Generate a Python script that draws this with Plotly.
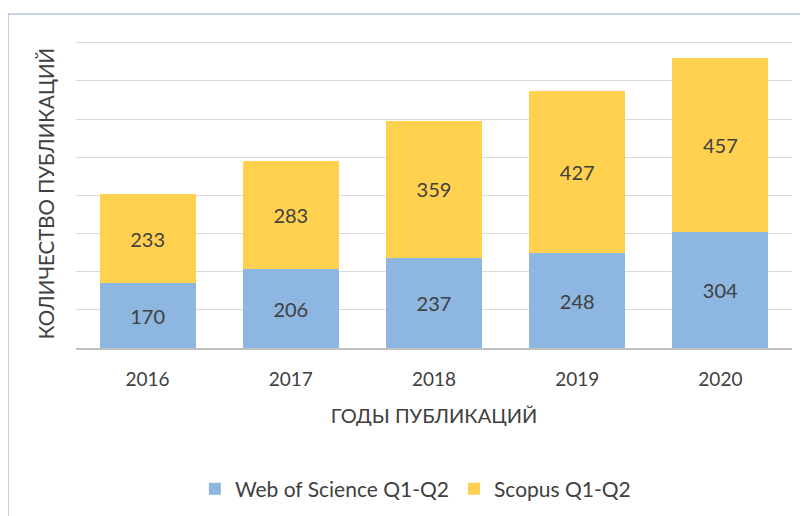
import plotly.graph_objects as go

years = ["2016", "2017", "2018", "2019", "2020"]
wos = [170, 206, 237, 248, 304]
scopus = [233, 283, 359, 427, 457]
series_names = ["Web of Science Q1-Q2", "Scopus Q1-Q2"]
x_title = "ГОДЫ ПУБЛИКАЦИЙ"
y_title = "КОЛИЧЕСТВО ПУБЛИКАЦИЙ"

FONT = "Lato, Carlito, Calibri, sans-serif"
TXT = "#404040"

fig = go.Figure()
fig.add_trace(go.Bar(x=years, y=wos, name=series_names[0], marker=dict(color="#8DB6E1", line=dict(width=0)),
                     text=wos, textposition="inside", insidetextanchor="middle",
                     textfont=dict(size=20, color=TXT, family=FONT)))
fig.add_trace(go.Bar(x=years, y=scopus, name=series_names[1], marker=dict(color="#FFD14F", line=dict(width=0)),
                     text=scopus, textposition="inside", insidetextanchor="middle",
                     textfont=dict(size=20, color=TXT, family=FONT)))

# page has an 8px body margin, so the figure is 800x508 placed at (8,8)
W, H = 800, 508
L, R, T, B = 68, 16, 31, 168
pw, ph = W - L - R, H - T - B

fig.update_layout(
    width=W, height=H, barmode="stack", bargap=0.33,
    margin=dict(l=L, r=R, t=T, b=B, autoexpand=False),
    paper_bgcolor="white", plot_bgcolor="white",
    font=dict(family=FONT, color=TXT),
    uniformtext=dict(mode=False),
    xaxis=dict(showgrid=False, showline=True, linecolor="#BFBFBF", linewidth=1.5,
               tickfont=dict(size=19, color=TXT), ticks="", ticklabelstandoff=13,
               title=dict(text=x_title, font=dict(size=20, color=TXT), standoff=20)),
    yaxis=dict(range=[0, 810], tickvals=[100, 200, 300, 400, 500, 600, 700, 800],
               showgrid=True, gridcolor="#D9D9D9", gridwidth=1,
               showticklabels=False, zeroline=False, ticks="",
               title=dict(text=y_title, font=dict(size=20.5, color=TXT), standoff=14)),
    legend=dict(orientation="h", x=0.474, xanchor="center", y=-0.39, yanchor="top",
                font=dict(size=21, color=TXT), itemwidth=30, traceorder="normal"),
    shapes=[dict(type="rect", xref="paper", yref="paper",
                 x0=(0 - L) / pw, x1=(W + 20 - L) / pw,
                 y0=-(B + 20) / ph, y1=(H - B - 6) / ph,
                 line=dict(color="#B4C4D8", width=1.5), fillcolor="rgba(0,0,0,0)", layer="below")],
)
fig.write_html("out.html")
